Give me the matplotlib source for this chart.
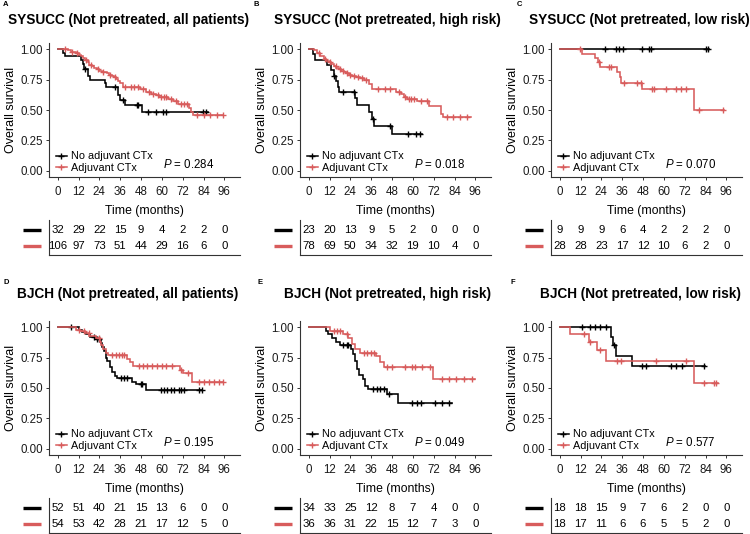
import numpy as np
import matplotlib
matplotlib.use('Agg')
import matplotlib.pyplot as plt
from matplotlib.lines import Line2D

plt.rcParams['font.family'] = ['Liberation Sans', 'DejaVu Sans']
plt.rcParams['mathtext.fontset'] = 'custom'
plt.rcParams['mathtext.it'] = 'Liberation Sans:italic'
plt.rcParams['mathtext.rm'] = 'Liberation Sans'

BLACK = '#000000'
RED = '#D85C5C'

# ---------------- data ----------------
titles = ['SYSUCC (Not pretreated, all patients)',
          'SYSUCC (Not pretreated, high risk)',
          'SYSUCC (Not pretreated, low risk)',
          'BJCH (Not pretreated, all patients)',
          'BJCH (Not pretreated, high risk)',
          'BJCH (Not pretreated, low risk)']
letters = ['A', 'B', 'C', 'D', 'E', 'F']
p_values = ['0.284', '0.018', '0.070', '0.195', '0.049', '0.577']
legend_labels = ['No adjuvant CTx', 'Adjuvant CTx']
time_ticks = [0, 12, 24, 36, 48, 60, 72, 84, 96]
surv_ticks = [0.00, 0.25, 0.50, 0.75, 1.00]
surv_tick_labels = ['0.00', '0.25', '0.50', '0.75', '1.00']

risk_black = [[32, 29, 22, 15, 9, 4, 2, 2, 0],
              [23, 20, 13, 9, 5, 2, 0, 0, 0],
              [9, 9, 9, 6, 4, 2, 2, 2, 0],
              [52, 51, 40, 21, 15, 13, 6, 0, 0],
              [34, 33, 25, 12, 8, 7, 4, 0, 0],
              [18, 18, 15, 9, 7, 6, 2, 0, 0]]
risk_red = [[106, 97, 73, 51, 44, 29, 16, 6, 0],
            [78, 69, 50, 34, 32, 19, 10, 4, 0],
            [28, 28, 23, 17, 12, 10, 6, 2, 0],
            [54, 53, 42, 28, 21, 17, 12, 5, 0],
            [36, 36, 31, 22, 15, 12, 7, 3, 0],
            [18, 17, 11, 6, 6, 5, 5, 2, 0]]

# Panel A
a_black_t = [2.9, 4.4, 13.5, 14.5, 15.4, 17.3, 18.7, 27.0, 27.9, 34.7, 36.0, 38.5, 48.7]
a_black_s = [0.97, 0.94, 0.91, 0.875, 0.84, 0.78, 0.75, 0.72, 0.69, 0.62, 0.58, 0.54, 0.48]
a_black_end = 86.7
a_black_cens = [15.9, 32.8, 37.6, 45.5, 46.5, 52.0, 56.8, 60.7, 62.6, 83.8, 85.7]
a_red_t = [5.8, 7.5, 9.0, 10.6, 12.0, 13.5, 14.5, 16.0, 17.5, 18.3, 19.8, 21.2, 22.6, 24.0,
           25.5, 27.0, 28.5, 29.7, 31.0, 32.4, 33.7, 35.0, 36.0, 37.6, 47.2, 51.0, 54.0,
           56.8, 58.5, 63.6, 66.5, 69.4, 75.5, 77.0, 78.0]
a_red_s = [0.99, 0.98, 0.975, 0.97, 0.955, 0.94, 0.925, 0.91, 0.895, 0.87, 0.86, 0.845,
           0.835, 0.82, 0.815, 0.81, 0.80, 0.79, 0.78, 0.77, 0.755, 0.74, 0.72, 0.69, 0.67,
           0.65, 0.635, 0.62, 0.61, 0.59, 0.57, 0.55, 0.52, 0.48, 0.46]
a_red_end = 95.4
a_red_cens = [4.0, 8.0, 11.0, 16.5, 19.0, 23.0, 26.0, 30.0, 33.0, 38.5, 42.0, 44.0, 46.0,
              49.0, 52.5, 55.0, 57.5, 59.5, 61.0, 62.5, 65.0, 68.0, 71.0, 73.0, 74.5,
              80.5, 84.0, 88.0, 92.0, 95.0]

# Panel B
b_black_t = [2.5, 3.5, 10.6, 13.1, 14.5, 15.8, 17.0, 17.7, 26.6, 27.9, 34.7, 36.6, 37.8, 47.8]
b_black_s = [0.96, 0.91, 0.87, 0.83, 0.78, 0.74, 0.69, 0.65, 0.60, 0.54, 0.48, 0.43, 0.37, 0.30]
b_black_end = 65.0
b_black_cens = [14.8, 20.0, 26.0, 37.2, 46.8, 57.0, 62.0, 64.0]
b_red_t = [2.9, 4.8, 6.7, 8.7, 10.2, 11.6, 13.0, 14.5, 16.0, 17.3, 18.8, 20.2, 21.6, 23.1,
           25.0, 27.0, 29.5, 31.8, 34.7, 36.2, 50.1, 53.0, 54.9, 56.8, 62.6, 69.4, 76.1, 77.1]
b_red_s = [0.99, 0.97, 0.94, 0.92, 0.905, 0.89, 0.875, 0.86, 0.845, 0.835, 0.82, 0.81,
           0.80, 0.79, 0.78, 0.77, 0.76, 0.75, 0.71, 0.67, 0.65, 0.63, 0.61, 0.59, 0.57,
           0.53, 0.47, 0.44]
b_red_end = 93.4
b_red_cens = [6.0, 9.5, 12.0, 15.5, 18.0, 19.5, 22.0, 24.0, 26.0, 28.5, 30.5, 33.0, 40.0,
              44.0, 47.0, 52.0, 55.5, 57.5, 59.0, 60.5, 64.5, 68.0, 79.5, 83.0, 87.0,
              91.0]

# Panel C
c_black_t = []
c_black_s = []
c_black_end = 86.1
c_black_cens = [26.0, 32.2, 34.1, 36.4, 47.6, 51.4, 52.4, 84.2, 85.7]
c_red_t = [12.9, 20.6, 22.0, 23.5, 33.1, 34.5, 35.6, 47.6, 77.5]
c_red_s = [0.96, 0.93, 0.89, 0.85, 0.81, 0.77, 0.72, 0.67, 0.50]
c_red_end = 94.8
c_red_cens = [11.9, 22.5, 28.3, 29.3, 37.0, 44.7, 46.6, 53.4, 54.3, 61.0, 66.9, 69.7,
              72.6, 80.3, 93.8]

# Panel D
d_black_t = [12.1, 14.1, 16.4, 18.9, 21.8, 24.7, 25.6, 26.6, 27.6, 28.5, 30.1, 31.4,
             32.9, 34.3, 43.0, 45.3, 50.7]
d_black_s = [0.98, 0.96, 0.94, 0.92, 0.90, 0.87, 0.84, 0.80, 0.75, 0.72, 0.67, 0.63,
             0.60, 0.58, 0.55, 0.53, 0.48]
d_black_end = 83.4
d_black_cens = [7.9, 20.8, 22.7, 23.7, 36.2, 38.2, 40.1, 47.8, 48.7, 59.3, 61.3, 63.2,
                65.1, 67.1, 70.0, 70.9, 72.8, 81.5, 83.0]
d_red_t = [10.6, 13.1, 15.6, 18.3, 21.8, 24.3, 25.2, 26.2, 27.6, 29.1, 39.7, 41.4, 43.4,
           70.5, 72.4, 77.3]
d_red_s = [0.98, 0.97, 0.95, 0.93, 0.91, 0.88, 0.85, 0.82, 0.79, 0.77, 0.74, 0.71, 0.68,
           0.65, 0.62, 0.55]
d_red_end = 95.4
d_red_cens = [12.1, 15.0, 17.9, 23.7, 31.4, 33.3, 35.3, 37.2, 38.2, 46.8, 49.1, 51.6,
              54.5, 57.4, 60.3, 62.2, 66.1, 71.0, 74.8, 81.5, 84.4, 87.3, 90.2, 93.1, 95.0]

# Panel E
e_black_t = [9.8, 11.4, 13.3, 15.6, 18.1, 24.5, 25.8, 26.8, 27.6, 28.7, 31.2, 32.6, 34.1,
             45.1, 51.4]
e_black_s = [0.97, 0.94, 0.91, 0.88, 0.85, 0.82, 0.78, 0.72, 0.66, 0.61, 0.57, 0.52, 0.49,
             0.45, 0.38]
e_black_end = 82.3
e_black_cens = [20.0, 22.0, 22.9, 36.8, 39.3, 41.2, 43.2, 46.0, 59.5, 62.4, 64.4, 73.0,
                76.9, 80.7]
e_red_t = [12.3, 20.0, 22.9, 24.9, 26.4, 29.7, 38.7, 40.8, 43.2, 71.5]
e_red_s = [0.97, 0.94, 0.91, 0.86, 0.82, 0.79, 0.76, 0.71, 0.67, 0.57]
e_red_end = 95.8
e_red_cens = [14.3, 16.2, 18.1, 22.0, 31.6, 33.5, 36.0, 37.4, 45.1, 48.0, 55.7, 59.5,
              61.5, 65.3, 70.1, 76.9, 80.7, 84.6, 89.4, 94.2]

# Panel F
f_black_t = [29.3, 30.5, 32.6, 41.8]
f_black_s = [0.92, 0.85, 0.76, 0.68]
f_black_end = 83.8
f_black_cens = [12.9, 17.7, 20.6, 23.5, 26.4, 31.2, 47.6, 49.5, 64.0, 66.9, 70.7, 83.2]
f_red_t = [6.2, 16.8, 21.6, 26.4, 77.5]
f_red_s = [0.94, 0.88, 0.81, 0.72, 0.54]
f_red_end = 90.9
f_red_cens = [13.9, 17.7, 23.5, 33.1, 35.1, 55.3, 72.6, 83.2, 89.0, 90.3]

curves = [
    ((a_black_t, a_black_s, a_black_end, a_black_cens), (a_red_t, a_red_s, a_red_end, a_red_cens)),
    ((b_black_t, b_black_s, b_black_end, b_black_cens), (b_red_t, b_red_s, b_red_end, b_red_cens)),
    ((c_black_t, c_black_s, c_black_end, c_black_cens), (c_red_t, c_red_s, c_red_end, c_red_cens)),
    ((d_black_t, d_black_s, d_black_end, d_black_cens), (d_red_t, d_red_s, d_red_end, d_red_cens)),
    ((e_black_t, e_black_s, e_black_end, e_black_cens), (e_red_t, e_red_s, e_red_end, e_red_cens)),
    ((f_black_t, f_black_s, f_black_end, f_black_cens), (f_red_t, f_red_s, f_red_end, f_red_cens)),
]

# ---------------- layout helpers ----------------
W, H = 750, 534
fig = plt.figure(figsize=(W / 100, H / 100), dpi=100)


def px_axes(left, top, width, height):
    return fig.add_axes([left / W, 1 - (top + height) / H, width / W, height / H])


def step_xy(t, s, end):
    x = [0.0] + list(t) + [end]
    y = [1.0] + list(s) + [s[-1] if len(s) else 1.0]
    return x, y


def surv_at(t, s, times):
    t = np.asarray(t, float)
    s = np.asarray(s, float)
    out = []
    for tc in times:
        idx = np.searchsorted(t, tc, side='right') - 1
        out.append(1.0 if idx < 0 else s[idx])
    return out


col_off = [0, 251, 502]
row_off = [0, 278]
title_cx = [[128, 387, 639], [128, 388, 640]]
title_cy = [20, 294]
letter_xy = [[(3, 5), (253, 5), (517, 5)], [(3, 283), (257, 283), (510, 283)]]
AX_COL = '#333333'

for i in range(6):
    r, c = divmod(i, 3)
    ox, oy = col_off[c], row_off[r]
    ax = px_axes(49 + ox, 43 + oy, 191, 134)
    (bt, bs, be, bc), (rt, rs, re_, rc) = curves[i]

    for (t, s, e, cens, col) in [(bt, bs, be, bc, BLACK), (rt, rs, re_, rc, RED)]:
        x, y = step_xy(t, s, e)
        ax.plot(x, y, drawstyle='steps-post', color=col, lw=1.15, solid_joinstyle='miter')
        ax.plot(cens, surv_at(t, s, cens), ls='none', marker='+', ms=5, mew=1.0, color=col)

    ax.set_xlim(-5, 105)
    ax.set_ylim(-0.05, 1.05)
    ax.set_xticks(time_ticks)
    ax.set_yticks(surv_ticks)
    ax.set_yticklabels(surv_tick_labels)
    for sp in ['top', 'right']:
        ax.spines[sp].set_visible(False)
    for sp in ['left', 'bottom']:
        ax.spines[sp].set_color(AX_COL)
        ax.spines[sp].set_linewidth(0.8)
    ax.tick_params(labelsize=8.3, length=2.5, width=0.7, color=AX_COL, labelcolor='#1a1a1a')
    ax.tick_params(axis='x', pad=4)
    ax.tick_params(axis='y', pad=2)
    ax.set_ylabel('Overall survival', fontsize=9, labelpad=2)
    ax.set_xlabel('Time (months)', fontsize=8.8, labelpad=5)

    handles = [Line2D([], [], color=BLACK, lw=1.1, marker='+', ms=5, mew=1.0),
               Line2D([], [], color=RED, lw=1.1, marker='+', ms=5, mew=1.0)]
    ax.legend(handles, legend_labels, loc='lower left', bbox_to_anchor=(0.035, 0.03),
              frameon=False, fontsize=7.8, handlelength=1.05, handletextpad=0.35,
              borderpad=0, borderaxespad=0, labelspacing=0.15)
    ax.text(0.597, 0.092, '$P$ = ' + p_values[i], transform=ax.transAxes,
            fontsize=8.3, ha='left', va='center')

    # risk table
    rax = px_axes(49 + ox, 220 + oy, 191, 35)
    rax.set_xlim(-5, 105)
    rax.set_ylim(0, 1)
    for sp in ['top', 'right']:
        rax.spines[sp].set_visible(False)
    for sp in ['left', 'bottom']:
        rax.spines[sp].set_color(AX_COL)
        rax.spines[sp].set_linewidth(0.8)
    rax.set_xticks([])
    rax.set_yticks([])
    for tt, nb, nr in zip(time_ticks, risk_black[i], risk_red[i]):
        rax.text(tt, 0.72, str(nb), ha='center', va='center', fontsize=8.2)
        rax.text(tt, 0.26, str(nr), ha='center', va='center', fontsize=8.2)
    for yy, col in [(0.72, BLACK), (0.26, RED)]:
        rax.plot([-0.136, -0.042], [yy, yy], transform=rax.transAxes, color=col,
                 lw=2.4, clip_on=False, solid_capstyle='butt')

    fig.text(title_cx[r][c] / W, 1 - title_cy[r] / H, titles[i], ha='center', va='center',
             fontsize=9.8, fontweight='bold')
    lx, ly = letter_xy[r][c]
    fig.text(lx / W, 1 - ly / H, letters[i], ha='left', va='center', fontsize=5.5,
             fontweight='bold')

fig.savefig('out.png', dpi=100)
